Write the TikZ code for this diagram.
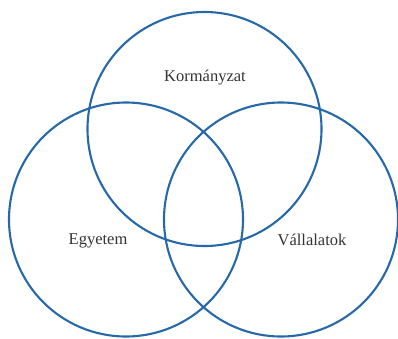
\documentclass[tikz,border=0pt]{standalone}
\usepackage{fontspec}
\setmainfont{Liberation Serif}
\definecolor{vennblue}{RGB}{38,104,168}
\begin{document}
\begin{tikzpicture}[x=1pt,y=-1pt,
  venn/.style={draw=vennblue,line width=2.1pt,circle,minimum size=234pt,inner sep=0pt},
  lbl/.style={font=\fontsize{16.5}{18}\selectfont,text=black!80,inner sep=0pt}]
\useasboundingbox (0,0) rectangle (398,338);
\node[venn] (gov) at (204.5,129) {};
\node[venn] (uni) at (126,219.5) {};
\node[venn] (biz) at (281,219.5) {};
\node[lbl] (govl) at (205,78) {Kormányzat};
\node[lbl] (unil) at (98,241) {Egyetem};
\node[lbl] (bizl) at (312,240) {Vállalatok};
\end{tikzpicture}
\end{document}
